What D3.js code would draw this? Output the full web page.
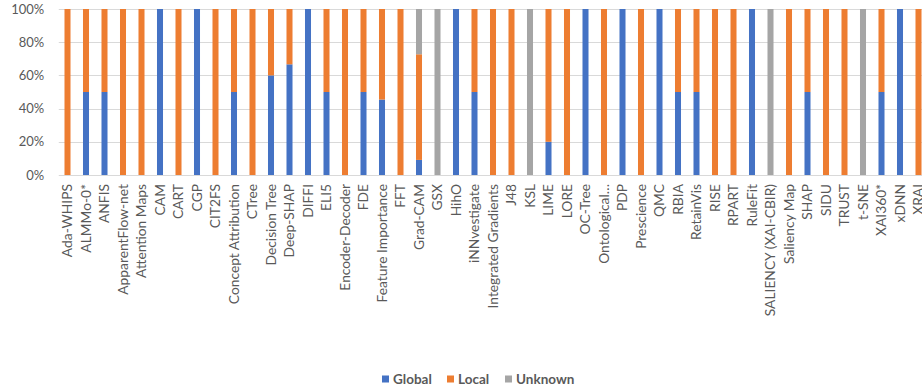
<!DOCTYPE html>
<html>
<head>
<meta charset="utf-8">
<script src="https://cdn.jsdelivr.net/npm/d3@7"></script>
<style>
  html, body { margin: 0; padding: 0; background: #fff; overflow: hidden; }
  svg { display: block; }
  text { font-family: Lato, "Open Sans", sans-serif; }
</style>
</head>
<body>
<svg id="chart" width="922" height="392"></svg>
<script>
// XAI methods and the share of their use that is global, local or unknown (%)
const categories = [
  "Ada-WHIPS", "ALMMo-0*", "ANFIS", "ApparentFlow-net", "Attention Maps", "CAM", "CART", "CGP",
  "CIT2FS", "Concept Attribution", "CTree", "Decision Tree", "Deep-SHAP", "DIFFI", "ELI5",
  "Encoder-Decoder", "FDE", "Feature Importance", "FFT", "Grad-CAM", "GSX", "HihO", "iNNvestigate",
  "Integrated Gradients", "J48", "KSL", "LIME", "LORE", "OC-Tree", "Ontological\u2026", "PDP",
  "Prescience", "QMC", "RBIA", "RetainVis", "RISE", "RPART", "RuleFit", "SALIENCY (XAI-CBIR)",
  "Saliency Map", "SHAP", "SIDU", "TRUST", "t-SNE", "XAI360*", "xDNN", "XRAI"
];
const globalPct = [
  0, 50, 50, 0, 0, 100, 0, 100,
  0, 50, 0, 60, 66.67, 100, 50,
  0, 50, 45.45, 0, 9.09, 0, 100, 50,
  0, 0, 0, 20, 0, 100, 0, 100,
  0, 100, 50, 50, 0, 0, 100, 0,
  0, 50, 0, 0, 0, 50, 100, 0
];
const localPct = [
  100, 50, 50, 100, 100, 0, 100, 0,
  100, 50, 100, 40, 33.33, 0, 50,
  100, 50, 54.55, 100, 63.64, 0, 0, 50,
  100, 100, 0, 80, 100, 0, 100, 0,
  100, 0, 50, 50, 100, 100, 0, 0,
  100, 50, 100, 100, 0, 50, 0, 100
];
const unknownPct = [
  0, 0, 0, 0, 0, 0, 0, 0,
  0, 0, 0, 0, 0, 0, 0,
  0, 0, 0, 0, 27.27, 100, 0, 0,
  0, 0, 100, 0, 0, 0, 0, 0,
  0, 0, 0, 0, 0, 0, 0, 100,
  0, 0, 0, 0, 100, 0, 0, 0
];
const seriesNames = ["Global", "Local", "Unknown"];
const seriesColors = ["#4472C4", "#ED7D31", "#A5A5A5"];
const yTicks = [0, 20, 40, 60, 80, 100];

const rows = categories.map((c, i) => ({
  name: c, Global: globalPct[i], Local: localPct[i], Unknown: unknownPct[i]
}));

const svg = d3.select("#chart");
const plot = { left: 58.25, top: 9, bottom: 175 };
const step = 18.5;
const plotRight = plot.left + step * categories.length;

const x = d3.scaleBand()
  .domain(categories)
  .range([plot.left, plotRight])
  .paddingInner(0.675)
  .paddingOuter(0.3375);

const y = d3.scaleLinear().domain([0, 100]).range([plot.bottom, plot.top]);

const color = d3.scaleOrdinal().domain(seriesNames).range(seriesColors);

// horizontal gridlines
svg.append("g")
  .selectAll("line")
  .data(yTicks)
  .join("line")
  .attr("x1", plot.left + 0.5)
  .attr("x2", plotRight)
  .attr("y1", d => Math.round(y(d)) + 0.5)
  .attr("y2", d => Math.round(y(d)) + 0.5)
  .attr("stroke", "#D9D9D9")
  .attr("stroke-width", 1);

// y axis labels
const yAxis = svg.append("g")
  .attr("transform", `translate(${plot.left},0)`)
  .call(d3.axisLeft(y).tickValues(yTicks).tickFormat(d => d + "%").tickSize(0).tickPadding(14));
yAxis.select(".domain").remove();
yAxis.selectAll("text")
  .attr("fill", "#595959")
  .style("font-size", "13px")
  .style("font-family", "Lato, 'Open Sans', sans-serif");

// stacked bars
const stack = d3.stack().keys(seriesNames)(rows);
svg.append("g")
  .selectAll("g")
  .data(stack)
  .join("g")
  .attr("fill", d => color(d.key))
  .selectAll("rect")
  .data(d => d)
  .join("rect")
  .attr("x", d => x(d.data.name))
  .attr("width", x.bandwidth())
  .attr("y", d => y(d[1]))
  .attr("height", d => y(d[0]) - y(d[1]));

// category labels, rotated
const xAxis = svg.append("g")
  .attr("transform", `translate(0,${plot.bottom})`)
  .call(d3.axisBottom(x).tickSize(0).tickPadding(0));
xAxis.select(".domain").remove();
xAxis.selectAll("text")
  .attr("fill", "#595959")
  .style("font-size", "13.8px")
  .style("font-family", "Lato, 'Open Sans', sans-serif")
  .attr("text-anchor", "end")
  .attr("y", 0)
  .attr("dy", "0.35em")
  .attr("transform", "translate(0,9) rotate(-90)");

// legend
const legendItems = [
  { name: "Global", x: 382 },
  { name: "Local", x: 447 },
  { name: "Unknown", x: 505 }
];
const legend = svg.append("g")
  .selectAll("g")
  .data(legendItems)
  .join("g")
  .attr("transform", d => `translate(${d.x},379)`);
legend.append("rect")
  .attr("x", 0).attr("y", -3.5).attr("width", 7).attr("height", 7)
  .attr("fill", d => color(d.name));
legend.append("text")
  .attr("x", 11)
  .attr("dy", "0.35em")
  .attr("fill", "#595959")
  .style("font-size", "13.5px")
  .style("font-weight", "bold")
  .text(d => d.name);
</script>
</body>
</html>
